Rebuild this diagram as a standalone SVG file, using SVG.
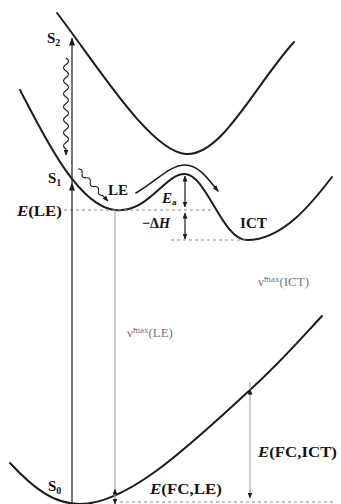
<svg xmlns="http://www.w3.org/2000/svg" width="341" height="504" viewBox="0 0 341 504">
<style>
.curve{fill:none;stroke:#1c1c1c;stroke-width:2;stroke-linecap:round}
.vert{stroke:#1c1c1c;stroke-width:1.2;fill:none}
.wave{stroke:#1c1c1c;stroke-width:1.1;fill:none}
.thin{stroke:#9a9a9a;stroke-width:1;fill:none}
.dash{stroke:#8a8a8a;stroke-width:1;stroke-dasharray:3 3;fill:none}
.lbl{font-family:"Liberation Serif","Times New Roman",serif;font-weight:bold;font-size:15px;fill:#151515}
.it{font-style:italic}
.nu{font-family:"Liberation Serif","Times New Roman",serif;font-size:13px;fill:#7a7a7a}
</style>
<defs>
<marker id="ah" markerWidth="8" markerHeight="6" refX="7.5" refY="3" orient="auto-start-reverse" markerUnits="userSpaceOnUse"><path d="M0,0 L8,3 L0,6 Z" fill="#1c1c1c"/></marker>
<marker id="as" markerWidth="6" markerHeight="5" refX="5.5" refY="2.5" orient="auto-start-reverse" markerUnits="userSpaceOnUse"><path d="M0,0 L6,2.5 L0,5 Z" fill="#1c1c1c"/></marker>
</defs>
<rect width="341" height="504" fill="#ffffff"/>

<g id="S2">
<path class="curve" d="M57,13 C95,62 150,152 186,154 C222,156 255,85 294,42"/>
<text class="lbl" x="47" y="43">S<tspan font-size="10" dy="3">2</tspan></text>
</g>
<g id="S1">
<path class="curve" d="M20,90 C45,138 78,206 115,210 C148,214 165,173 185,174 C207,175 222,240 247,240 C283,240 312,203 332,177"/>
<text class="lbl" x="48" y="183">S<tspan font-size="10" dy="3">1</tspan></text>
<text class="lbl" x="17" y="216" textLength="45" lengthAdjust="spacingAndGlyphs"><tspan class="it">E</tspan>(LE)</text>
<text class="lbl" x="108" y="195">LE</text>
<text class="lbl" x="240" y="228" textLength="27" lengthAdjust="spacingAndGlyphs">ICT</text>
</g>
<g id="S0">
<path class="curve" d="M10,463 C35,490 55,504 80,504 C130,504 195,440 250,390 C285,358 305,334 322,316"/>
<text class="lbl" x="48" y="491">S<tspan font-size="10" dy="3">0</tspan></text>
</g>

<g id="levels">
<path class="dash" d="M64,210 H214"/>
<path class="dash" d="M171,240 H247"/>
<path class="dash" d="M120,502 H336"/>
</g>

<g id="connectors">
<path class="vert" d="M72,504 V183" marker-end="url(#ah)"/>
<path class="vert" d="M72,183 V38" marker-end="url(#ah)"/>
<path class="wave" d="M66,58 q5,3.25 0,6.5 t0,6.5 t0,6.5 t0,6.5 t0,6.5 t0,6.5 t0,6.5 t0,6.5 t0,6.5 t0,6.5 t0,6.5 t0,6.5 t0,6.5 t0,6.5 l0,6" marker-end="url(#as)"/>
<g transform="translate(78,169) rotate(47)">
<path class="wave" d="M0,0 q3,-4 6,0 t6,0 t6,0 t6,0 t6,0 t6,0 l8,0" marker-end="url(#as)"/>
</g>
<path class="curve" style="stroke-width:1.6" d="M136,193 C158,180 170,165 185,165 C199,165 209,180 218,191" marker-end="url(#as)"/>
<path class="vert" d="M185,176 V207" marker-start="url(#as)" marker-end="url(#as)"/>
<path class="vert" d="M185,213 V239" marker-start="url(#as)" marker-end="url(#as)"/>
<path class="thin" d="M115,210 V504"/>
<path class="thin" d="M115,496 V489" marker-end="url(#as)"/>
<path class="thin" d="M115,498 V504" marker-end="url(#as)"/>
<path class="thin" d="M250,382 V498"/>
<path class="thin" d="M250,396 V389" marker-end="url(#as)"/>
<path class="thin" d="M250,490 V498" marker-end="url(#as)"/>
</g>

<g id="labels">
<text class="lbl" x="162" y="203"><tspan class="it">E</tspan><tspan font-size="9" dy="2">a</tspan></text>
<text class="lbl" x="142" y="228" textLength="28" lengthAdjust="spacingAndGlyphs">−Δ<tspan class="it">H</tspan></text>
<text class="nu" x="258" y="286">ν̃<tspan font-size="9" dy="-4">max</tspan><tspan dy="4">(ICT)</tspan></text>
<text class="nu" x="127" y="337">ν̃<tspan font-size="9" dy="-4">max</tspan><tspan dy="4">(LE)</tspan></text>
<text class="lbl" x="258" y="457" textLength="79" lengthAdjust="spacingAndGlyphs"><tspan class="it">E</tspan>(FC,ICT)</text>
<text class="lbl" x="150" y="494" textLength="72" lengthAdjust="spacingAndGlyphs"><tspan class="it">E</tspan>(FC,LE)</text>
</g>
</svg>
